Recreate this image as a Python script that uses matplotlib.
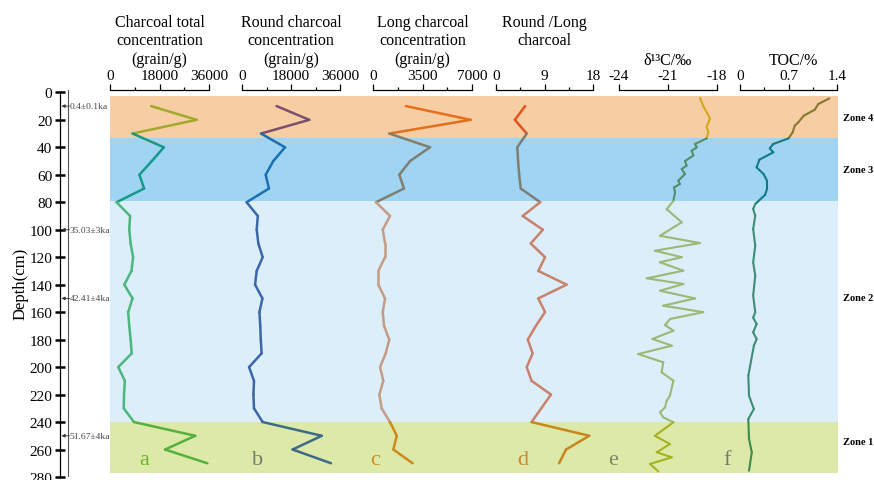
import matplotlib
matplotlib.use("Agg")
import matplotlib.pyplot as plt
from matplotlib.collections import LineCollection
from matplotlib.ticker import MultipleLocator
import numpy as np

plt.rcParams['font.family'] = ['Liberation Serif', 'DejaVu Serif']

# ---- data ---------------------------------------------------------------
DEPTH = [10, 20, 30, 40, 50, 60, 70, 80, 90, 100, 110, 120, 130, 140, 150, 160,
         170, 180, 190, 200, 210, 220, 230, 240, 250, 260, 270]
TOTAL = [15000, 31500, 8200, 19600, 15200, 10700, 12400, 2400, 7300, 7000, 7500,
         8400, 7800, 5200, 8200, 6600, 7000, 7500, 7900, 3000, 5400, 5100, 5000,
         8700, 31000, 20000, 35400]
ROUND = [12700, 24700, 7000, 15800, 11500, 8700, 9900, 1700, 5800, 5400, 6000,
         7600, 5400, 4800, 7500, 6400, 6700, 6900, 7200, 2600, 4400, 4200, 4400,
         7600, 29300, 18600, 32700]
LONG = [2330, 6900, 1150, 4030, 2620, 1860, 2190, 210, 1200, 690, 850, 850, 380,
        380, 850, 690, 780, 1150, 900, 500, 730, 450, 610, 1200, 1680, 1440, 2800]
RATIO = [5.4, 3.5, 5.7, 3.95, 4.1, 4.3, 4.6, 8.2, 4.95, 8.7, 6.45, 9.1, 7.85,
         13.1, 7.85, 9.1, 7.4, 5.9, 6.8, 5.7, 6.6, 10.2, 8.4, 6.6, 17.3, 13.0, 11.7]

D13C_DEPTH = [4, 10, 19, 25, 29, 33.5, 37.6, 40, 42.5, 46, 50, 53.4, 55.8, 59.5,
              64.3, 66.7, 69.2, 72.8, 79, 85, 94.6, 104.4, 109.7, 115.3, 120, 123.7,
              129.8, 135.4, 139.5, 144.4, 150, 155.3, 160, 165, 169.4, 173.5, 179.5,
              184.4, 190.5, 196.5, 203.8, 209.9, 220.8, 224.5, 229.3, 232.9, 236.6,
              240.2, 250, 256, 262, 265.7, 270.5, 276]
D13C = [-19.04, -18.84, -18.43, -18.63, -18.53, -18.63, -19.35, -19.24, -19.55,
        -19.45, -19.96, -19.86, -20.16, -19.96, -20.37, -20.27, -20.63, -20.57,
        -20.67, -21.08, -20.16, -21.49, -19.04, -21.80, -20.16, -21.49, -20.06,
        -22.30, -20.06, -21.49, -19.35, -21.29, -18.84, -20.88, -21.18, -20.67,
        -21.95, -20.77, -22.82, -21.29, -21.39, -20.67, -20.88, -21.08, -21.18,
        -21.49, -21.29, -20.67, -21.80, -20.88, -21.69, -20.77, -22.10, -21.59]

TOC_DEPTH = [4.4, 8.5, 12.6, 17, 21.9, 24.3, 29.1, 33.5, 37.6, 40.8, 43.7, 49,
             54.6, 59.5, 64.3, 70.4, 74.7, 81.3, 84.9, 89.8, 99.5, 111.6, 123.7,
             133.4, 148, 160, 164, 168.6, 174.7, 179.6, 184.4, 206.3, 220.8, 230.5,
             237.8, 252.3, 262, 275.4]
TOC = [1.29, 1.13, 1.08, 0.92, 0.84, 0.79, 0.76, 0.70, 0.48, 0.43, 0.48, 0.28,
       0.24, 0.34, 0.39, 0.39, 0.36, 0.22, 0.19, 0.22, 0.19, 0.22, 0.19, 0.22,
       0.19, 0.22, 0.19, 0.24, 0.19, 0.24, 0.20, 0.12, 0.13, 0.20, 0.12, 0.13,
       0.17, 0.13]

ZONE_NAMES = ["Zone 4", "Zone 3", "Zone 2", "Zone 1"]
ZONE_TOP = [2.5, 33.5, 79, 240]
ZONE_BOT = [33.5, 79, 240, 277]
ZONE_FILL = ["#f7cda3", "#9fd5f3", "#dbeefa", "#dde9a9"]
ZONE_LABEL_DEPTH = [18, 56, 149, 254]

AGE_DEPTH = [10, 100, 150, 250]
AGE_LABEL = ["0.4±0.1ka", "35.03±3ka", "42.41±4ka", "51.67±4ka"]

TITLES = ["Charcoal total\nconcentration\n(grain/g)",
          "Round charcoal\nconcentration\n(grain/g)",
          "Long charcoal\nconcentration\n(grain/g)",
          "Round /Long\ncharcoal",
          "δ¹³C/‰", "TOC/%"]
LETTERS = ["a", "b", "c", "d", "e", "f"]
XLIMS = [(0, 36000), (0, 36000), (0, 7000), (0, 18), (-24, -18), (0, 1.4)]
MAJOR = [18000, 18000, 3500, 9, 3, 0.7]
MINOR = [9000, 9000, 1750, 4.5, None, 0.35]
SERIES = [(TOTAL, DEPTH), (ROUND, DEPTH), (LONG, DEPTH), (RATIO, DEPTH),
          (D13C, D13C_DEPTH), (TOC, TOC_DEPTH)]
# line colour in zone 4, 3, 2, 1
LINE_COLORS = [["#a3a82e", "#17998a", "#4cb67e", "#56b03c"],
               ["#7b4f6e", "#1a6fb5", "#3b67a8", "#3e6a88"],
               ["#e2701e", "#7d7f74", "#c49c86", "#cc8a1e"],
               ["#e2541c", "#7d7f74", "#c8826c", "#c8861e"],
               ["#d2aa1e", "#4f8f6e", "#9cb874", "#a6b21e"],
               ["#877a2e", "#0f7c84", "#3f8d74", "#3b8c4c"]]
LETTER_COLORS = ["#6ab82a", "#6f7d6c", "#d09020", "#c88a30", "#7a8a6a", "#75786a"]

# ---- layout (pixels) -----------------------------------------------------
W, H = 874, 481
Y_TOP, Y_BOT = 90.6, 478
PANEL_X = [(110, 209), (242, 340), (373, 472), (496, 593), (619, 717), (740, 837)]
LETTER_X = [144, 258, 375, 523, 613, 727]
YLIM = (280, -2)


def rect(x0, x1):
    return [x0 / W, (H - Y_BOT) / H, (x1 - x0) / W, (Y_BOT - Y_TOP) / H]


def zone_of(d):
    for k in range(4):
        if d <= ZONE_BOT[k]:
            return k
    return 3


fig = plt.figure(figsize=(W / 100, H / 100), dpi=100)

# background zone bands
ax_bg = fig.add_axes(rect(110, 838))
ax_bg.set_ylim(*YLIM)
ax_bg.set_xlim(0, 1)
ax_bg.axis("off")
for top, bot, col in zip(ZONE_TOP, ZONE_BOT, ZONE_FILL):
    ax_bg.axhspan(top, bot, color=col, lw=0)
for name, dl in zip(ZONE_NAMES, ZONE_LABEL_DEPTH):
    ax_bg.text(1.007, dl, name, transform=ax_bg.get_yaxis_transform(),
               ha="left", va="center", fontsize=7.5, fontweight="bold")

# panels
for i, ((x0, x1), (vals, dep)) in enumerate(zip(PANEL_X, SERIES)):
    ax = fig.add_axes(rect(x0, x1))
    ax.patch.set_visible(False)
    ax.set_xlim(*XLIMS[i])
    ax.set_ylim(*YLIM)
    for s in ["left", "right", "bottom"]:
        ax.spines[s].set_visible(False)
    ax.spines["top"].set_linewidth(0.9)
    ax.set_yticks([])
    ax.xaxis.tick_top()
    ax.xaxis.set_major_locator(MultipleLocator(MAJOR[i]))
    if MINOR[i]:
        ax.xaxis.set_minor_locator(MultipleLocator(MINOR[i]))
    ax.tick_params(axis="x", which="major", direction="out", length=4.5, width=0.9,
                   labelsize=11, pad=1)
    ax.tick_params(axis="x", which="minor", direction="out", length=2.2, width=0.9)
    ax.xaxis.set_major_formatter(plt.FuncFormatter(lambda v, p: f"{v:g}"))

    pts = np.column_stack([vals, dep])
    segs = np.stack([pts[:-1], pts[1:]], axis=1)
    cols = [LINE_COLORS[i][zone_of((a + b) / 2)] for a, b in zip(dep[:-1], dep[1:])]
    lw = 1.8 if i < 4 else 1.5
    lc = LineCollection(segs, colors=cols, linewidths=lw, capstyle="round",
                        joinstyle="round")
    ax.add_collection(lc)

    xc = (x0 + x1) / 2
    if i < 4:
        fig.text(xc / W, 1 - 15 / H, TITLES[i], ha="center", va="top",
                 fontsize=11.5, linespacing=1.2)
    else:
        fig.text((xc + (5 if i == 5 else 0)) / W, 1 - 61 / H, TITLES[i],
                 ha="center", va="center", fontsize=11.5)
    fig.text(LETTER_X[i] / W, 1 - 461 / H, LETTERS[i], ha="center", va="center",
             fontsize=16, color=LETTER_COLORS[i])

# depth axis with age markers
ax_d = fig.add_axes(rect(60, 110))
ax_d.patch.set_visible(False)
ax_d.set_xlim(0, 1)
ax_d.set_ylim(*YLIM)
for s in ["top", "right", "bottom"]:
    ax_d.spines[s].set_visible(False)
ax_d.spines["left"].set_bounds(0, 280)
ax_d.spines["left"].set_linewidth(0.9)
ax_d.set_xticks([])
ax_d.set_yticks(range(0, 281, 20))
ax_d.tick_params(axis="y", direction="inout", length=7, width=1.8, labelsize=11, pad=2)
ax_d.set_ylabel("Depth(cm)", fontsize=12, labelpad=1)
ax_d.axvline(0.165, ymin=0, ymax=(280 + 2) / 282, color="#555555", lw=0.8)
for d, lab in zip(AGE_DEPTH, AGE_LABEL):
    ax_d.annotate("", xy=(0.03, d), xytext=(0.19, d),
                  arrowprops=dict(arrowstyle="-|>", lw=0.6, color="#333333",
                                  mutation_scale=5, shrinkA=0, shrinkB=0))
    ax_d.text(0.19, d, lab, ha="left", va="center", fontsize=6.8, color="#444444")

fig.savefig("out.png", dpi=100)
